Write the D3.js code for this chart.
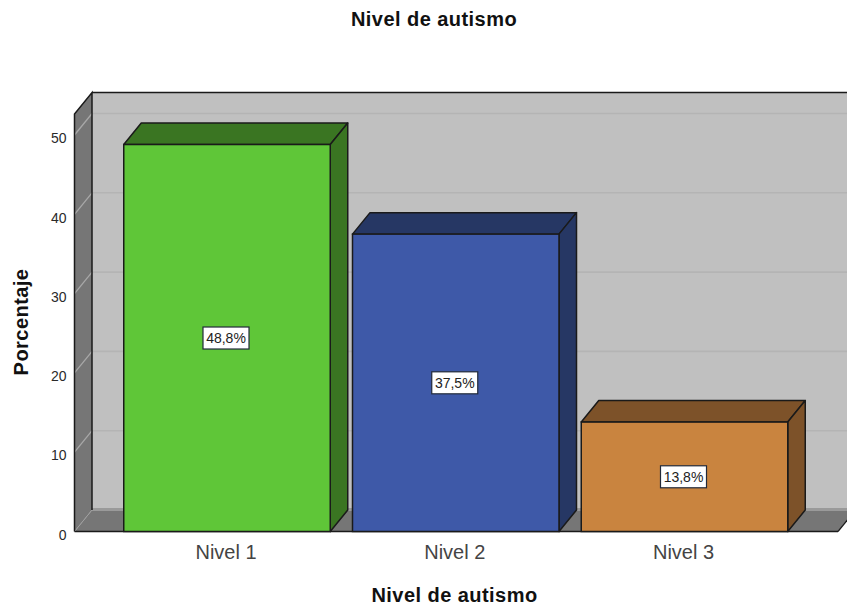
<!DOCTYPE html>
<html><head><meta charset="utf-8">
<script src="https://cdn.jsdelivr.net/npm/d3@7"></script>
<style>html,body{margin:0;padding:0;background:#fff;overflow:hidden}svg{display:block}text{font-family:"Liberation Sans",Arial,sans-serif}</style>
</head><body><div id="c"></div>
<script>
const categories = ["Nivel 1","Nivel 2","Nivel 3"];
const values = [48.8,37.5,13.8];
const valueLabels = ["48,8%","37,5%","13,8%"];
const frontColors = ["#5fc638","#3e59a8","#c9843f"];
const shadeColors = ["#3a7522","#263764","#7d5229"];
const yTicks = [0,10,20,30,40,50];
const chartTitle = "Nivel de autismo", xTitle = "Nivel de autismo", yTitle = "Porcentaje";

const W=847,H=607, dx=17.5, dy=-21.5;
const svg=d3.select("#c").append("svg").attr("width",W).attr("height",H);
const y=d3.scaleLinear().domain([0,50]).range([531.5,135]);
const x=d3.scalePoint().domain(categories).range([227,684.5]);
const barW=206.5;
const left=74.5, right=838, yTop=y(52.65), y0=y(0);
const line=d3.line();
const ink="#1a1a1a";

// back wall
svg.append("path").attr("d",line([[left+dx,yTop+dy],[W+20,yTop+dy],[W+20,y0+dy],[left+dx,y0+dy]])+"Z").attr("fill","#c0c0c0");
// back wall gridlines
svg.selectAll(".g").data(yTicks.slice(1)).join("line").attr("x1",left+dx).attr("x2",W)
  .attr("y1",d=>y(d)+dy).attr("y2",d=>y(d)+dy).attr("stroke","#b4b4b4").attr("stroke-width",1.6);
svg.append("line").attr("x1",left+dx).attr("x2",W).attr("y1",yTop+dy).attr("y2",yTop+dy).attr("stroke",ink).attr("stroke-width",1.5);
// floor
svg.append("path").attr("d",line([[left,y0],[right,y0],[right+dx,y0+dy],[left+dx,y0+dy]])+"Z").attr("fill","#767676");
svg.append("rect").attr("x",left+dx).attr("y",y0+dy-2).attr("width",W-left-dx).attr("height",3).attr("fill","#9a9a9a");
svg.append("line").attr("x1",left).attr("x2",right).attr("y1",y0).attr("y2",y0).attr("stroke",ink).attr("stroke-width",1.5);
svg.append("line").attr("x1",right).attr("x2",right+dx).attr("y1",y0).attr("y2",y0+dy).attr("stroke",ink).attr("stroke-width",1.2);
// left wall
svg.append("path").attr("d",line([[left,y0],[left,yTop],[left+dx,yTop+dy],[left+dx,y0+dy]])+"Z").attr("fill","#767676");
svg.selectAll(".w").data(yTicks.slice(1)).join("line").attr("x1",left).attr("x2",left+dx)
  .attr("y1",d=>y(d)).attr("y2",d=>y(d)+dy).attr("stroke","#a8a8a8").attr("stroke-width",1.3);
svg.append("line").attr("x1",left).attr("y1",y0).attr("x2",left+dx).attr("y2",y0+dy).attr("stroke","#a0a0a0").attr("stroke-width",1);
svg.append("path").attr("d",line([[left,y0],[left,yTop],[left+dx,yTop+dy],[left+dx,y0+dy]])).attr("fill","none").attr("stroke",ink).attr("stroke-width",1.5);

// bars
const bars=svg.selectAll(".b").data(categories).join("g");
bars.each(function(c,i){
  const g=d3.select(this), x0=x(c)-barW/2, x1=x(c)+barW/2, t=y(values[i]);
  g.append("path").attr("d",line([[x0,t],[x0+dx,t+dy],[x1+dx,t+dy],[x1,t]])+"Z");
  g.append("path").attr("d",line([[x1,t],[x1+dx,t+dy],[x1+dx,y0+dy],[x1,y0]])+"Z");
  g.selectAll("path").attr("fill",shadeColors[i]).attr("stroke",ink).attr("stroke-width",1.5).attr("stroke-linejoin","round");
  g.append("rect").attr("x",x0).attr("y",t).attr("width",barW).attr("height",y0-t)
   .attr("fill",frontColors[i]).attr("stroke",ink).attr("stroke-width",1.5);
  const cy=(t+y0)/2;
  g.append("rect").attr("x",x(c)-24).attr("y",cy-11).attr("width",46).attr("height",22)
   .attr("fill","#fff").attr("stroke","#222a3a").attr("stroke-width",1.2);
  g.append("text").attr("x",x(c)-1).attr("y",cy+5).attr("text-anchor","middle").attr("font-size",14).attr("fill","#222").text(valueLabels[i]);
});

// axes
const ya=d3.axisLeft(y).tickValues(yTicks).tickSize(0).tickPadding(8);
const yg=svg.append("g").attr("transform",`translate(${left},0)`).call(ya);
yg.select(".domain").remove();
yg.selectAll("text").attr("font-size",14).attr("dy","0.55em").attr("fill","#2a2a2a").style("font-family",'"Liberation Sans",Arial,sans-serif');
const xa=d3.axisBottom(x).tickSize(0).tickPadding(13);
const xg=svg.append("g").attr("transform",`translate(-1.5,${y0})`).call(xa);
xg.select(".domain").remove();
xg.selectAll("text").attr("font-size",20).attr("fill","#444").style("font-family",'"Liberation Sans",Arial,sans-serif');

// titles
const bold=(s)=>s.attr("font-weight","bold").attr("font-size",20).attr("letter-spacing",0.45).attr("fill","#111").attr("text-anchor","middle");
svg.append("text").attr("x",434).attr("y",26).text(chartTitle).call(bold);
svg.append("text").attr("x",454.5).attr("y",602).text(xTitle).call(bold);
svg.append("text").attr("transform","translate(28,322) rotate(-90)").text(yTitle).call(bold);
</script></body></html>
